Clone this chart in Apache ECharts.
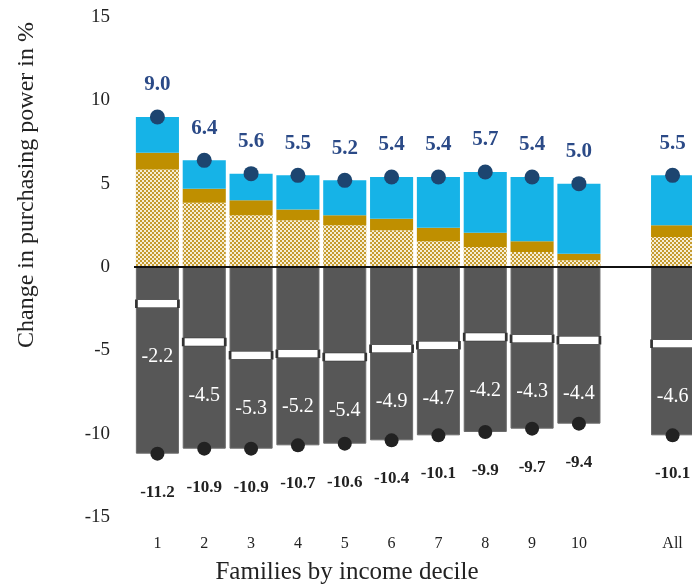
<!DOCTYPE html>
<html>
<head>
<meta charset="utf-8">
<script src="https://cdn.jsdelivr.net/npm/echarts@6/dist/echarts.min.js"></script>
<style>
html,body{margin:0;padding:0;background:#fff;overflow:hidden;}
#c{width:692px;height:588px;}
</style>
</head>
<body>
<div id="c"></div>
<script>
const categories = ['1','2','3','4','5','6','7','8','9','10','','All'];
const hatched = [5.85,3.85,3.1,2.8,2.5,2.2,1.55,1.2,0.9,0.4,null,1.8];
const goldPart = [1.0,0.85,0.9,0.65,0.6,0.7,0.8,0.85,0.65,0.4,null,0.7];
const bluePart = [2.15,1.7,1.6,2.05,2.1,2.5,3.05,3.65,3.85,4.2,null,3.0];
const posTotal = [9.0,6.4,5.6,5.5,5.2,5.4,5.4,5.7,5.4,5.0,null,5.5];
const negMid = [-2.2,-4.5,-5.3,-5.2,-5.4,-4.9,-4.7,-4.2,-4.3,-4.4,null,-4.6];
const negTotal = [-11.2,-10.9,-10.9,-10.7,-10.6,-10.4,-10.1,-9.9,-9.7,-9.4,null,-10.1];
const yTicks = [-15,-10,-5,0,5,10,15];

const FONT = '"Liberation Serif", "DejaVu Serif", serif';

// checkerboard pattern
const pc = document.createElement('canvas');
pc.width = 4; pc.height = 4;
const px = pc.getContext('2d');
px.fillStyle = '#f6eed6'; px.fillRect(0,0,4,4);
px.fillStyle = '#c59b2e';
px.fillRect(0,0,2,2); px.fillRect(2,2,2,2);

const nz = a => a.map(v => v === null ? '-' : v);

const chart = echarts.init(document.getElementById('c'), null, {renderer:'canvas'});
chart.setOption({
  animation:false,
  backgroundColor:'#fff',
  grid:{left:134, width:562, top:17, bottom:71, outerBoundsMode:'none', containLabel:false},
  xAxis:{
    type:'category', data:categories,
    axisLine:{show:false, onZero:false}, axisTick:{show:false},
    axisLabel:{margin:19, fontSize:16, color:'#222', fontFamily:FONT, interval:0}
  },
  yAxis:{
    type:'value', min:yTicks[0], max:yTicks[yTicks.length-1], interval:5,
    splitLine:{show:false}, axisLine:{show:false}, axisTick:{show:false},
    axisLabel:{margin:24, fontSize:19, color:'#222', fontFamily:FONT}
  },
  graphic:[
    {type:'text', x:27, y:185, rotation:Math.PI/2,
     style:{text:'Change in purchasing power in %', fontSize:24, fontFamily:FONT, fill:'#222', textAlign:'center', textVerticalAlign:'middle'}},
    {type:'text', x:347, y:572,
     style:{text:'Families by income decile', fontSize:25, fontFamily:FONT, fill:'#222', textAlign:'center', textVerticalAlign:'middle'}}
  ],
  series:[
    {type:'bar', stack:'a', data:nz(hatched), barCategoryGap:'8%',
     itemStyle:{color:{image:pc, repeat:'repeat'}},
     markLine:{silent:true, symbol:'none', label:{show:false},
       lineStyle:{color:'#111', width:2, type:'solid'}, data:[{yAxis:0}]}},
    {type:'bar', stack:'a', data:nz(goldPart), itemStyle:{color:'#bf8f00'}},
    {type:'bar', stack:'a', data:nz(bluePart), itemStyle:{color:'#16b3e7'}},
    {type:'bar', stack:'a', data:nz(negTotal), itemStyle:{color:'#575757', borderColor:'#6a6a6a', borderWidth:1}},
    {type:'scatter', data:nz(posTotal), symbolSize:15, z:5,
     itemStyle:{color:'#1d4570', opacity:1},
     label:{show:true, position:'top', distance:14, color:'#2b4a87', fontSize:21, fontWeight:'bold', fontFamily:FONT,
       formatter:p => p.value.toFixed(1)}},
    {type:'scatter', data:nz(negTotal), symbolSize:14, z:5,
     itemStyle:{color:'#222', opacity:1},
     label:{show:true, position:'bottom', distance:23, color:'#222', fontSize:17, fontWeight:'bold', fontFamily:FONT,
       formatter:p => p.value.toFixed(1)}},
    {type:'scatter', data:nz(negMid), symbol:'rect', symbolSize:[42,8], z:5,
     itemStyle:{color:'#fff', borderColor:'#333', borderWidth:1.2, opacity:1},
     label:{show:true, position:'bottom', distance:39, color:'#fff', fontSize:20, fontFamily:FONT,
       formatter:p => p.value.toFixed(1)}}
  ]
});
</script>
</body>
</html>
